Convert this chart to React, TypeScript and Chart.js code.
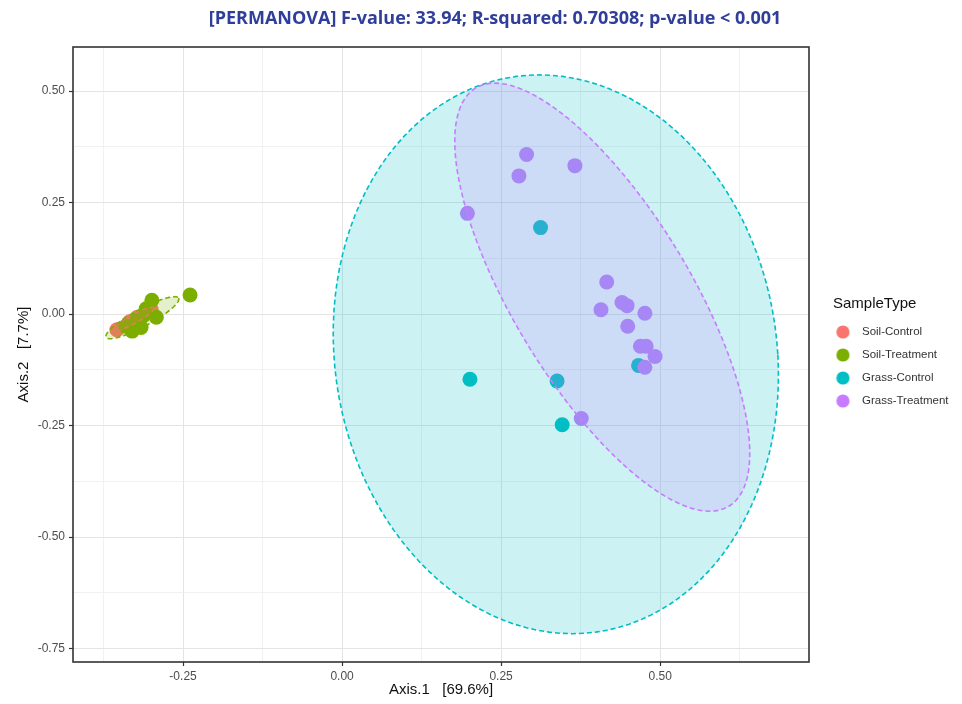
import React, { useEffect, useRef } from 'react';
import { Chart, registerables } from 'chart.js';

Chart.register(...registerables);

// ---------- text ----------
const TITLE = '[PERMANOVA] F-value: 33.94; R-squared: 0.70308; p-value < 0.001';
const X_TITLE = 'Axis.1   [69.6%]';
const Y_TITLE = 'Axis.2   [7.7%]';
const LEGEND_TITLE = 'SampleType';

// ---------- groups ----------
const groups = ['Soil-Control', 'Soil-Treatment', 'Grass-Control', 'Grass-Treatment'];
const groupColors = ['#F8766D', '#7CAE00', '#00BFC4', '#C77CFF'];
const groupFills = ['rgba(248,118,109,0.2)', 'rgba(124,174,0,0.2)', 'rgba(0,191,196,0.2)', 'rgba(199,124,255,0.2)'];

// ---------- sample coordinates (Axis.1, Axis.2) ----------
const soilControlX = [-0.308, -0.322, -0.334, -0.354, -0.300];
const soilControlY = [0.004, -0.007, -0.017, -0.035, 0.010];

const soilTreatmentX = [-0.239, -0.299, -0.292, -0.308, -0.322, -0.330, -0.340, -0.316, -0.312];
const soilTreatmentY = [0.043, 0.031, -0.007, 0.012, -0.012, -0.038, -0.027, -0.030, -0.003];

const grassControlX = [0.312, 0.466, 0.201, 0.338, 0.346];
const grassControlY = [0.194, -0.115, -0.146, -0.150, -0.248];

const grassTreatmentX = [0.290, 0.278, 0.366, 0.197, 0.416, 0.407, 0.440, 0.448, 0.476, 0.449, 0.469, 0.478, 0.492, 0.476, 0.376];
const grassTreatmentY = [0.358, 0.310, 0.333, 0.226, 0.072, 0.010, 0.026, 0.019, 0.002, -0.027, -0.072, -0.072, -0.095, -0.119, -0.234];

// ---------- confidence ellipses: centre, semi-axis vector u (cos), semi-axis vector v (sin) ----------
const soilControlEllipseCenter = [-0.329, -0.012];
const soilControlEllipseU = [0.033, 0.026];
const soilControlEllipseV = [0.0042, -0.0080];

const soilTreatmentEllipseCenter = [-0.314, -0.008];
const soilTreatmentEllipseU = [0.057, 0.044];
const soilTreatmentEllipseV = [0.0066, -0.0170];

const grassControlEllipseCenter = [0.336, -0.090];
const grassControlEllipseU = [0.349, 0];
const grassControlEllipseV = [-0.026, 0.6265];

const grassTreatmentEllipseCenter = [0.409, 0.038];
const grassTreatmentEllipseU = [0.1588, 0];
const grassTreatmentEllipseV = [-0.1690, 0.4800];

const ELLIPSE_STEPS = 120;

// ---------- axes ----------
const xRange = [-0.423, 0.734];
const yRange = [-0.780, 0.599];
const xMajorTicks = [-0.25, 0, 0.25, 0.5];
const xMinorTicks = [-0.375, -0.125, 0.125, 0.375, 0.625];
const yMajorTicks = [-0.75, -0.5, -0.25, 0, 0.25, 0.5];
const yMinorTicks = [-0.625, -0.375, -0.125, 0.125, 0.375];

const FONT = '"Liberation Sans", Arial, sans-serif';

function isMajor(v: number, majors: number[]) {
  return majors.some((m) => Math.abs(m - v) < 1e-9);
}

function zip(xs: number[], ys: number[]) {
  return xs.map((x, i) => ({ x, y: ys[i] }));
}

function ellipseData(c: number[], u: number[], v: number[]) {
  const pts: { x: number; y: number }[] = [];
  for (let i = 0; i <= ELLIPSE_STEPS; i++) {
    const t = (i / ELLIPSE_STEPS) * Math.PI * 2;
    pts.push({
      x: c[0] + u[0] * Math.cos(t) + v[0] * Math.sin(t),
      y: c[1] + u[1] * Math.cos(t) + v[1] * Math.sin(t),
    });
  }
  return pts;
}

function legendDot(color: string) {
  const c = document.createElement('canvas');
  c.width = 30;
  c.height = 14;
  const g = c.getContext('2d')!;
  g.fillStyle = color;
  g.beginPath();
  g.arc(7.6, 7, 6.6, 0, Math.PI * 2);
  g.fill();
  return c;
}

const panelBorder = {
  id: 'panelBorder',
  afterDatasetsDraw(chart: any) {
    const { ctx, chartArea: a } = chart;
    ctx.save();
    ctx.strokeStyle = '#333333';
    ctx.lineWidth = 1.6;
    ctx.strokeRect(a.left, a.top, a.right - a.left, a.bottom - a.top);
    ctx.restore();
  },
};

function axisScale(range: number[], majors: number[], minors: number[], title: string, horizontal: boolean) {
  const all = [...majors, ...minors].sort((a, b) => a - b);
  return {
    type: 'linear',
    min: range[0],
    max: range[1],
    position: horizontal ? 'bottom' : 'left',
    afterBuildTicks: (s: any) => {
      s.ticks = all.map((v) => ({ value: v }));
    },
    afterFit: (s: any) => {
      if (horizontal) s.height = 42;
      else s.width = 73;
    },
    ticks: {
      autoSkip: false,
      maxRotation: 0,
      padding: horizontal ? 3 : 4,
      color: '#4D4D4D',
      font: { family: FONT, size: 12 },
      callback: (v: number) => (isMajor(v, majors) ? Number(v).toFixed(2) : ''),
    },
    grid: {
      drawTicks: true,
      tickLength: 4,
      tickWidth: 1.2,
      color: (ctx: any) => (isMajor(ctx.tick?.value, majors) ? '#E4E4E4' : '#EDEDED'),
      lineWidth: (ctx: any) => (isMajor(ctx.tick?.value, majors) ? 1 : 0.8),
      tickColor: (ctx: any) => (isMajor(ctx.tick?.value, majors) ? '#333333' : 'rgba(0,0,0,0)'),
    },
    border: { display: false },
    title: {
      display: true,
      text: title,
      color: '#111111',
      font: { family: FONT, size: 15 },
      padding: horizontal ? { top: 0, bottom: 5 } : { top: 15, bottom: 0 },
    },
  };
}

export default function App() {
  const ref = useRef<HTMLCanvasElement>(null);

  useEffect(() => {
    const canvas = ref.current;
    if (!canvas) return;

    const pointSets = [
      zip(soilControlX, soilControlY),
      zip(soilTreatmentX, soilTreatmentY),
      zip(grassControlX, grassControlY),
      zip(grassTreatmentX, grassTreatmentY),
    ];
    const ellipseSets = [
      ellipseData(soilControlEllipseCenter, soilControlEllipseU, soilControlEllipseV),
      ellipseData(soilTreatmentEllipseCenter, soilTreatmentEllipseU, soilTreatmentEllipseV),
      ellipseData(grassControlEllipseCenter, grassControlEllipseU, grassControlEllipseV),
      ellipseData(grassTreatmentEllipseCenter, grassTreatmentEllipseU, grassTreatmentEllipseV),
    ];

    const datasets: any[] = [];
    groups.forEach((g, i) => {
      datasets.push({
        type: 'scatter',
        label: g,
        data: pointSets[i],
        pointRadius: 7.5,
        pointHoverRadius: 7.5,
        pointBorderWidth: 0,
        pointBackgroundColor: groupColors[i],
        backgroundColor: groupColors[i],
        borderColor: groupColors[i],
        order: 8 - i,
      });
    });
    groups.forEach((g, i) => {
      datasets.push({
        type: 'line',
        label: g + ' ellipse',
        data: ellipseSets[i],
        showLine: true,
        pointRadius: 0,
        pointHitRadius: 0,
        borderColor: groupColors[i],
        borderWidth: 1.6,
        borderDash: [5, 3],
        backgroundColor: groupFills[i],
        fill: 'shape',
        tension: 0,
        order: 4 - i,
      });
    });

    const dots = groupColors.map(legendDot);

    const chart = new Chart(canvas, {
      type: 'scatter',
      data: { datasets },
      plugins: [panelBorder],
      options: {
        responsive: false,
        animation: false,
        devicePixelRatio: 1,
        events: [],
        layout: { padding: { top: 47, right: 11, bottom: 0, left: 0 } },
        scales: {
          x: axisScale(xRange, xMajorTicks, xMinorTicks, X_TITLE, true) as any,
          y: axisScale(yRange, yMajorTicks, yMinorTicks, Y_TITLE, false) as any,
          y2: {
            type: 'linear',
            position: 'right',
            display: true,
            min: 0,
            max: 1,
            grid: { display: false, drawTicks: false },
            ticks: { display: false },
            border: { display: false },
            afterFit: (s: any) => {
              s.width = 24;
            },
          } as any,
        },
        plugins: {
          tooltip: { enabled: false },
          legend: {
            display: true,
            position: 'right',
            align: 'center',
            fullSize: false,
            maxWidth: 118,
            title: {
              display: true,
              text: LEGEND_TITLE,
              position: 'start',
              color: '#111111',
              font: { family: FONT, size: 15 },
              padding: { top: 6, bottom: 0 },
            },
            labels: {
              usePointStyle: true,
              pointStyleWidth: 11.75,
              padding: 11.5,
              color: '#333333',
              font: { family: FONT, size: 11.5 },
              generateLabels: () =>
                groups.map((g, i) => ({
                  text: g,
                  fillStyle: groupColors[i],
                  strokeStyle: groupColors[i],
                  lineWidth: 0,
                  pointStyle: dots[i] as any,
                  hidden: false,
                  datasetIndex: i,
                  fontColor: '#333333',
                })),
            },
          },
        },
      } as any,
    });

    return () => chart.destroy();
  }, []);

  return (
    <div style={{ position: 'absolute', left: 0, top: 0, width: 962, height: 704, background: '#ffffff', overflow: 'hidden' }}>
      <canvas ref={ref} width={962} height={704} style={{ position: 'absolute', left: 0, top: 0, width: 962, height: 704 }} />
      <div
        style={{
          position: 'absolute',
          left: 495,
          top: 0,
          transform: 'translateX(-50%)',
          whiteSpace: 'nowrap',
          fontFamily: '"Open Sans", sans-serif',
          fontWeight: 700,
          fontSize: 18,
          lineHeight: '34px',
          color: '#2F3E9A',
        }}
      >
        {TITLE}
      </div>
    </div>
  );
}
